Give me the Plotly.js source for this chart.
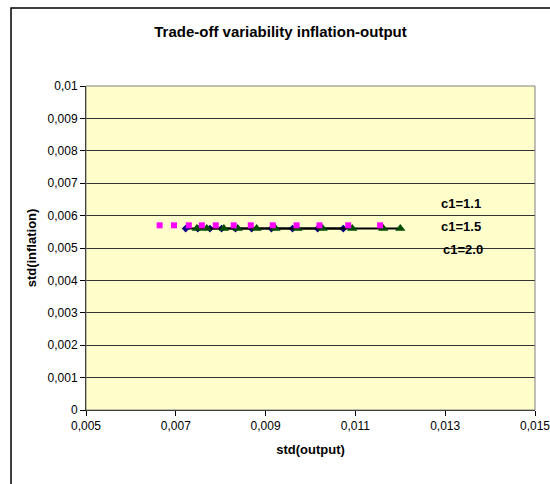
<!DOCTYPE html>
<html><head><meta charset="utf-8">
<script src="https://cdn.plot.ly/plotly-3.0.1.min.js"></script>
<style>body{margin:0;background:#fff}#c{width:550px;height:484px}</style>
</head><body><div id="c"></div>
<script>
// c1 = 1.1 (magenta squares)
const x11 = [0.00664, 0.00696, 0.00729, 0.00758, 0.00789, 0.00829, 0.00867, 0.00916, 0.00969, 0.0102, 0.01084, 0.01155];
const y11 = [0.0057, 0.0057, 0.0057, 0.0057, 0.0057, 0.0057, 0.0057, 0.0057, 0.0057, 0.0057, 0.0057, 0.0057];
// c1 = 2.0 (navy diamonds)
const x20 = [0.00722, 0.00749, 0.00776, 0.00802, 0.00833, 0.00869, 0.00913, 0.00960, 0.01016, 0.01073];
const y20 = [0.0056, 0.0056, 0.0056, 0.0056, 0.0056, 0.0056, 0.0056, 0.0056, 0.0056, 0.0056];
// c1 = 1.5 (green triangles)
const x15 = [0.00747, 0.00769, 0.00807, 0.00838, 0.00880, 0.00922, 0.00971, 0.01027, 0.01093, 0.01162, 0.01200];
const y15 = [0.0056, 0.0056, 0.0056, 0.0056, 0.0056, 0.0056, 0.0056, 0.0056, 0.0056, 0.0056, 0.0056];
const seriesLabels = ["c1=1.1", "c1=1.5", "c1=2.0"];
const xTicks = [0.005, 0.007, 0.009, 0.011, 0.013, 0.015];
const yTicks = [0, 0.001, 0.002, 0.003, 0.004, 0.005, 0.006, 0.007, 0.008, 0.009, 0.01];

const F = "Liberation Sans, Arial, sans-serif";
const traces = [
  {x: x20, y: y20, mode: "lines+markers", name: seriesLabels[2],
   line: {color: "#000000", width: 2}, marker: {symbol: "diamond", size: 6, color: "#000080"}},
  {x: x15, y: y15, mode: "lines+markers", name: seriesLabels[1],
   line: {color: "#000000", width: 2}, marker: {symbol: "triangle-up", size: 9, color: "#004d00"}},
  {x: x11, y: y11, mode: "markers", name: seriesLabels[0],
   marker: {symbol: "square", size: 6, color: "#ff00ff"}}
];
const layout = {
  width: 550, height: 484,
  margin: {l: 86, r: 15, t: 86, b: 74},
  paper_bgcolor: "#ffffff", plot_bgcolor: "#ffffcc",
  separators: ",.",
  showlegend: false,
  font: {family: F, color: "#000", size: 11},
  title: {text: "<b>Trade-off variability inflation-output</b>", font: {family: F, size: 15, color: "#000"},
          x: 0.51, xanchor: "center", y: 0.934, yanchor: "middle"},
  xaxis: {range: [0.005, 0.015], tickvals: xTicks, ticks: "outside", ticklen: 5, tickcolor: "#000",
          showgrid: false, zeroline: false, showline: true, linecolor: "#000", linewidth: 1,
          tickfont: {family: F, size: 12}, mirror: false, ticklabeloverflow: "allow",
          title: {text: "<b>std(output)</b>", font: {family: F, size: 13}, standoff: 12}},
  yaxis: {range: [0, 0.01], tickvals: yTicks, ticks: "outside", ticklen: 5, tickcolor: "#000",
          showgrid: true, gridcolor: "#333333", gridwidth: 1, zeroline: false,
          showline: true, linecolor: "#000", linewidth: 1,
          tickfont: {family: F, size: 12},
          title: {text: "<b>std(inflation)</b>", font: {family: F, size: 13}, standoff: 8}},
  shapes: [
    {type: "rect", xref: "paper", yref: "paper", x0: 0, x1: 1, y0: 0, y1: 1,
     line: {color: "#808080", width: 1}, fillcolor: "rgba(0,0,0,0)"},
    {type: "rect", xref: "paper", yref: "paper", x0: -0.167, x1: 1.2, y0: -0.4, y1: 1.2407,
     line: {color: "#000", width: 1.5}, fillcolor: "rgba(0,0,0,0)"}
  ],
  annotations: [
    {text: "<b>" + seriesLabels[0] + "</b>", xref: "paper", yref: "paper", x: 0.786, y: 0.636, xanchor: "left", yanchor: "middle", showarrow: false, font: {family: F, size: 13}},
    {text: "<b>" + seriesLabels[1] + "</b>", xref: "paper", yref: "paper", x: 0.786, y: 0.565, xanchor: "left", yanchor: "middle", showarrow: false, font: {family: F, size: 13}},
    {text: "<b>" + seriesLabels[2] + "</b>", xref: "paper", yref: "paper", x: 0.79, y: 0.494, xanchor: "left", yanchor: "middle", showarrow: false, font: {family: F, size: 13}}
  ]
};
Plotly.newPlot("c", traces, layout, {staticPlot: true, displayModeBar: false});
</script></body></html>
